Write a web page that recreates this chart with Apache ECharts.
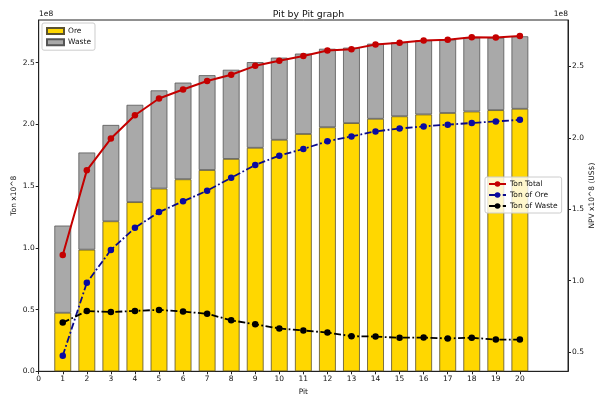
<!DOCTYPE html>
<html>
<head>
<meta charset="utf-8">
<script src="https://cdn.jsdelivr.net/npm/echarts@6/dist/echarts.min.js"></script>
<style>
  html, body { margin: 0; padding: 0; background: #fff; }
  #chart { width: 596px; height: 395px; }
</style>
</head>
<body>
<div id="chart"></div>
<script>
// Pit numbers and tonnages (units of 1e8 t)
const pits = [1, 2, 3, 4, 5, 6, 7, 8, 9, 10, 11, 12, 13, 14, 15, 16, 17, 18, 19, 20];
const oreTon = [0.474, 0.985, 1.215, 1.37, 1.48, 1.555, 1.63, 1.72, 1.81, 1.875,
                1.922, 1.976, 2.01, 2.045, 2.065, 2.08, 2.092, 2.104, 2.115, 2.126];
const wasteTon = [0.706, 0.787, 0.78, 0.788, 0.795, 0.783, 0.768, 0.722, 0.694, 0.665,
                  0.651, 0.636, 0.611, 0.608, 0.6, 0.601, 0.595, 0.6, 0.587, 0.587];
const totalTon = [1.18, 1.772, 1.995, 2.158, 2.275, 2.338, 2.398, 2.442, 2.504, 2.54,
                  2.573, 2.612, 2.621, 2.653, 2.665, 2.681, 2.687, 2.704, 2.702, 2.713];
// x positions along the axis (0 .. 22); labels shown up to 20
const xSlots = ['0', '1', '2', '3', '4', '5', '6', '7', '8', '9', '10', '11',
                '12', '13', '14', '15', '16', '17', '18', '19', '20', '21', '22'];
const lastLabelled = 20;
const leftTicks = [0.0, 0.5, 1.0, 1.5, 2.0, 2.5];
const rightTicks = [0.5, 1.0, 1.5, 2.0, 2.5];

const FONT = 'DejaVu Sans';
const pair = (vals) => pits.map((p, i) => [String(p), vals[i]]);

const chart = echarts.init(document.getElementById('chart'), null, { renderer: 'canvas' });

const axisText = { fontFamily: FONT, fontSize: 7.5, color: '#111' };
const legendText = { fontFamily: FONT, fontSize: 7.5, color: '#111', padding: [0, 0, 0, -1] };

chart.setOption({
  animation: false,
  backgroundColor: '#fff',
  textStyle: { fontFamily: FONT },
  title: {
    text: 'Pit by Pit graph',
    left: 303.5, top: 5, textAlign: 'center',
    textStyle: { fontFamily: FONT, fontSize: 9.4, fontWeight: 'normal', color: '#111' }
  },
  graphic: [
    { type: 'text', left: 39, top: 10, style: { text: '1e8', font: '7.5px "DejaVu Sans"', fill: '#111' } },
    { type: 'text', right: 28, top: 10, style: { text: '1e8', font: '7.5px "DejaVu Sans"', fill: '#111' } }
  ],
  grid: {
    left: 38.7, right: 28, top: 20, bottom: 23.7,
    containLabel: false, outerBoundsMode: 'none',
    show: true, borderColor: '#222', borderWidth: 1, backgroundColor: 'transparent'
  },
  legend: [
    {
      data: ['Ore', 'Waste'],
      orient: 'vertical', left: 42, top: 23,
      icon: 'rect', itemWidth: 17, itemHeight: 6, itemGap: 3.2,
      padding: [4, 4, 4, 4],
      backgroundColor: 'rgba(255,255,255,0.85)', borderColor: '#ccc', borderWidth: 1, borderRadius: 2,
      textStyle: legendText
    },
    {
      data: ['Ton Total', 'Ton of Ore', 'Ton of Waste'],
      orient: 'vertical', left: 485, top: 177,
      itemWidth: 17, itemHeight: 7, itemGap: 3,
      padding: [3, 4, 3, 3],
      backgroundColor: 'rgba(255,255,255,0.8)', borderColor: '#ccc', borderWidth: 1, borderRadius: 2,
      textStyle: legendText
    }
  ],
  xAxis: {
    type: 'category', data: xSlots, boundaryGap: false,
    name: 'Pit', nameLocation: 'middle', nameGap: 14,
    nameTextStyle: { fontFamily: FONT, fontSize: 7.5, color: '#111' },
    splitLine: { show: false },
    axisLine: { show: true, lineStyle: { color: '#222', width: 1 } },
    axisTick: { show: true, length: 3, interval: (i) => i <= lastLabelled, lineStyle: { color: '#222' } },
    axisLabel: { interval: (i) => i <= lastLabelled, margin: 4, ...axisText }
  },
  yAxis: [
    {
      type: 'value', min: 0, max: 2.845, position: 'left',
      name: 'Ton x10^8', nameLocation: 'middle', nameRotate: 90, nameGap: 21,
      nameMoveOverlap: false,
      nameTextStyle: { fontFamily: FONT, fontSize: 7.5, color: '#111' },
      splitLine: { show: false },
      axisLine: { show: true, lineStyle: { color: '#222', width: 1 } },
      axisTick: { show: true, length: 3, customValues: leftTicks, lineStyle: { color: '#222' } },
      axisLabel: { customValues: leftTicks, margin: 4, formatter: v => v.toFixed(1), ...axisText }
    },
    {
      type: 'value', min: 0.365, max: 2.825, position: 'right',
      name: 'NPV x10^8 (US$)', nameLocation: 'middle', nameRotate: 90, nameGap: 20,
      nameMoveOverlap: false,
      nameTextStyle: { fontFamily: FONT, fontSize: 7.5, color: '#111' },
      splitLine: { show: false },
      axisLine: { show: true, lineStyle: { color: '#222', width: 1 } },
      axisTick: { show: true, length: 3, customValues: rightTicks, lineStyle: { color: '#222' } },
      axisLabel: { customValues: rightTicks, margin: 4, formatter: v => v.toFixed(1), ...axisText }
    }
  ],
  series: [
    {
      name: 'Ore', type: 'bar', stack: 'ton', yAxisIndex: 0,
      data: pair(oreTon), barWidth: 16.8,
      itemStyle: { color: '#FFD700', borderColor: '#5a5230', borderWidth: 0.8 }
    },
    {
      name: 'Waste', type: 'bar', stack: 'ton', yAxisIndex: 0,
      data: pair(wasteTon), barWidth: 16.8,
      itemStyle: { color: '#A9A9A9', borderColor: '#555', borderWidth: 0.8 }
    },
    {
      name: 'Ton Total', type: 'line', yAxisIndex: 1, data: pair(totalTon),
      symbol: 'circle', symbolSize: 6.5,
      lineStyle: { color: '#c40000', width: 2 },
      itemStyle: { color: '#c40000' }
    },
    {
      name: 'Ton of Ore', type: 'line', yAxisIndex: 1, data: pair(oreTon),
      symbol: 'circle', symbolSize: 6.5,
      lineStyle: { color: '#0a0a8c', width: 1.8, type: [7, 2.5, 1.8, 2.5] },
      itemStyle: { color: '#0a0aa0' }
    },
    {
      name: 'Ton of Waste', type: 'line', yAxisIndex: 1, data: pair(wasteTon),
      symbol: 'circle', symbolSize: 6.5,
      lineStyle: { color: '#000', width: 1.8, type: [7, 2.5, 1.8, 2.5] },
      itemStyle: { color: '#000' }
    }
  ]
});
</script>
</body>
</html>
